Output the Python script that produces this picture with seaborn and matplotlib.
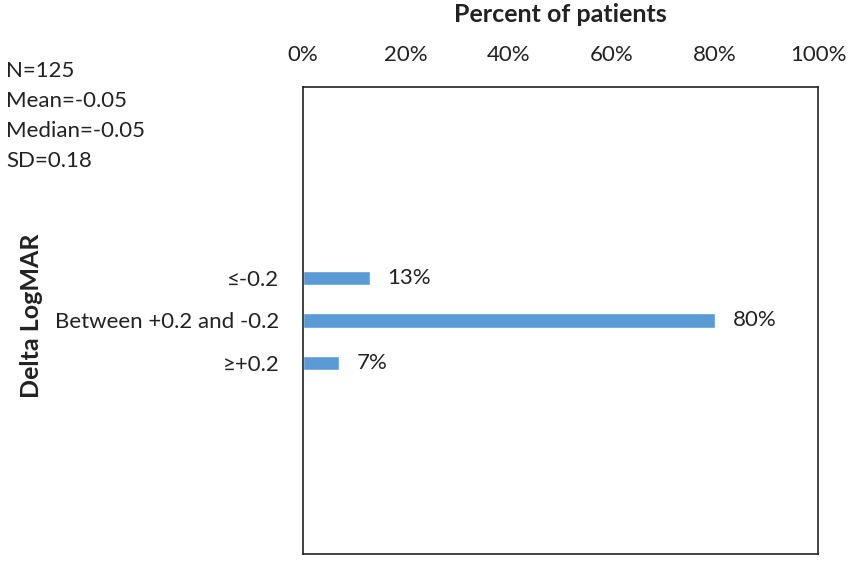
import matplotlib
matplotlib.use("Agg")
import matplotlib.pyplot as plt
import seaborn as sns
import pandas as pd

categories = ["≤-0.2", "Between +0.2 and -0.2", "≥+0.2"]
percents = [13, 80, 7]
stats_lines = ["N=125", "Mean=-0.05", "Median=-0.05", "SD=0.18"]

sns.set_style("white")
plt.rcParams['font.family'] = ['Lato', 'DejaVu Sans']

df = pd.DataFrame({"category": categories, "percent": percents})

fig = plt.figure(figsize=(8.51, 5.62), dpi=100)
ax = fig.add_axes([303 / 851, 1 - 554 / 562, 515 / 851, 467 / 562])

sns.barplot(data=df, x="percent", y="category", orient="h", color="#5B9BD5",
            saturation=1, width=0.33, ax=ax)

ax.set_xlim(0, 100)
ax.set_ylim(6.5, -4.5)
ax.xaxis.tick_top()
ax.set_xticks(range(0, 101, 20))
ax.set_xticklabels([f"{t}%" for t in range(0, 101, 20)])
ax.tick_params(axis="both", length=0, labelsize=16, colors="#222222")
ax.tick_params(axis="y", pad=17)
ax.tick_params(axis="x", pad=16)
ax.set_xlabel("")
ax.set_ylabel("")

for spine in ax.spines.values():
    spine.set_visible(True)
    spine.set_color("#222222")
    spine.set_linewidth(1.2)

for i, p in enumerate(percents):
    ax.text(p + 3.4, i, f"{p}%", va="center", ha="left", fontsize=16, color="#222222")

fig.text(560 / 851, 1 - 15 / 562, "Percent of patients", ha="center", va="center",
         fontsize=18, fontweight="bold", color="#222222")
fig.text(32 / 851, 1 - 316 / 562, "Delta LogMAR", ha="center", va="center",
         rotation=90, fontsize=18, fontweight="bold", color="#222222")

for k, line in enumerate(stats_lines):
    fig.text(6 / 851, 1 - (71 + 30 * k) / 562, line, ha="left", va="center",
             fontsize=16, color="#222222")

fig.savefig("out.png", dpi=100)
